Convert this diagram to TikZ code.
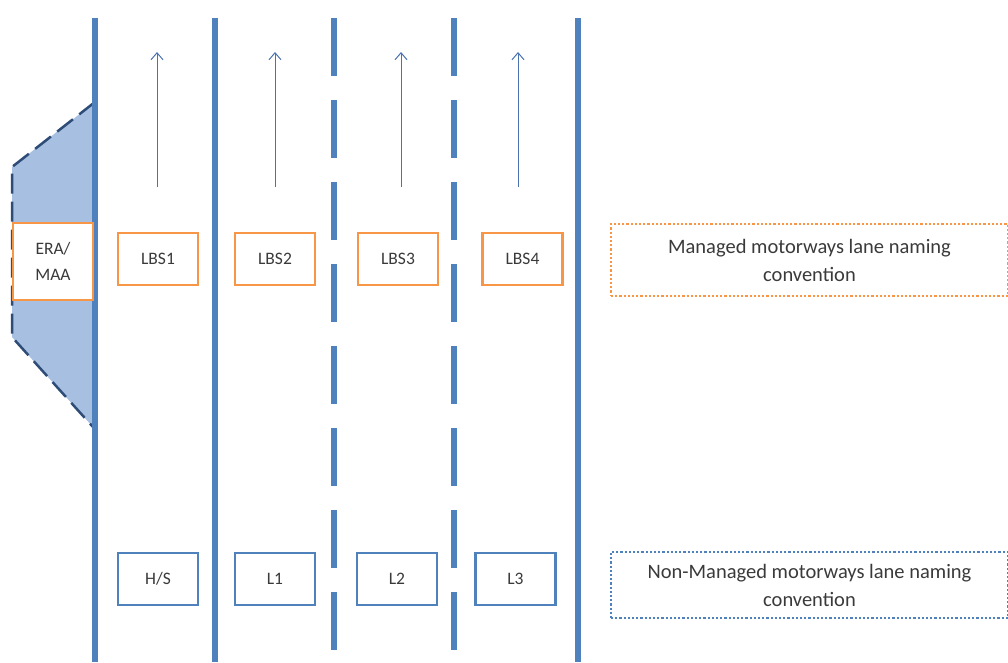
\documentclass[tikz,border=0pt]{standalone}
\usepackage{fontspec}
\setmainfont{Carlito}
\usetikzlibrary{arrows.meta}
\definecolor{lane}{HTML}{4F81BD}
\definecolor{org}{HTML}{F79646}
\definecolor{txt}{HTML}{3A3A3A}
\definecolor{erafill}{HTML}{A7BFE0}
\definecolor{eraline}{HTML}{2E4C78}
\definecolor{arr}{HTML}{4A72B0}
\begin{document}
\begin{tikzpicture}[x=1pt,y=-1pt,
  solidlane/.style={draw=lane,line width=5.5pt},
  dashlane/.style={draw=lane,line width=5.5pt,dash pattern=on 58pt off 24pt},
  mbox/.style={draw=org,line width=2.2pt,fill=white,minimum width=80pt,minimum height=52pt,inner sep=0pt,font=\fontsize{17.5}{20}\selectfont,text=txt},
  nbox/.style={draw=lane,line width=2.2pt,fill=white,minimum width=80pt,minimum height=52pt,inner sep=0pt,font=\fontsize{17.5}{20}\selectfont,text=txt},
  legend/.style={line width=2.2pt,minimum width=397pt,inner sep=0pt,align=center,font=\fontsize{20.5}{28}\selectfont,text=txt},
  dirarrow/.style={draw=arr,line width=1pt,-{Straight Barb[length=7pt,width=12pt]}}]
\useasboundingbox (0,0) rectangle (1008,662);
% ERA area
\fill[erafill] (95,102) -- (12,167) -- (12,337) -- (93,427) -- cycle;
\draw[draw=eraline,line width=2.5pt,dash pattern=on 20pt off 8pt] (95,102) -- (12,167) -- (12,337) -- (93,427);
% lane lines
\draw[solidlane] (95,18) -- (95,662);
\draw[solidlane] (215,18) -- (215,662);
\draw[dashlane] (334,18) -- (334,662);
\draw[dashlane] (454,18) -- (454,662);
\draw[solidlane] (578,18) -- (578,662);
% arrows
\foreach \n/\x in {1/157,2/275,3/401,4/518}{
  \coordinate (s\n) at (\x,187);
  \coordinate (e\n) at (\x,52);
  \draw[dirarrow] (s\n) -- (e\n);
}
% boxes
\node[mbox,minimum height=77pt,align=center,font=\fontsize{17.5}{26}\selectfont] (era) at (53,261.5) {ERA/\\MAA};
\node[mbox] (lbs1) at (158,259) {LBS1};
\node[mbox] (lbs2) at (275,259) {LBS2};
\node[mbox] (lbs3) at (398,259) {LBS3};
\node[mbox] (lbs4) at (522.5,259) {LBS4};
\node[nbox] (hs) at (158,579) {H/S};
\node[nbox] (l1) at (275,579) {L1};
\node[nbox] (l2) at (397,579) {L2};
\node[nbox] (l3) at (515.5,579) {L3};
% legends
\node[legend,draw=org,dotted,minimum height=72pt] (mleg) at (809.5,260) {Managed motorways lane naming\\convention};
\node[legend,draw=lane,dotted,minimum height=66pt] (nleg) at (809.5,585) {Non-Managed motorways lane naming\\convention};
\end{tikzpicture}
\end{document}
